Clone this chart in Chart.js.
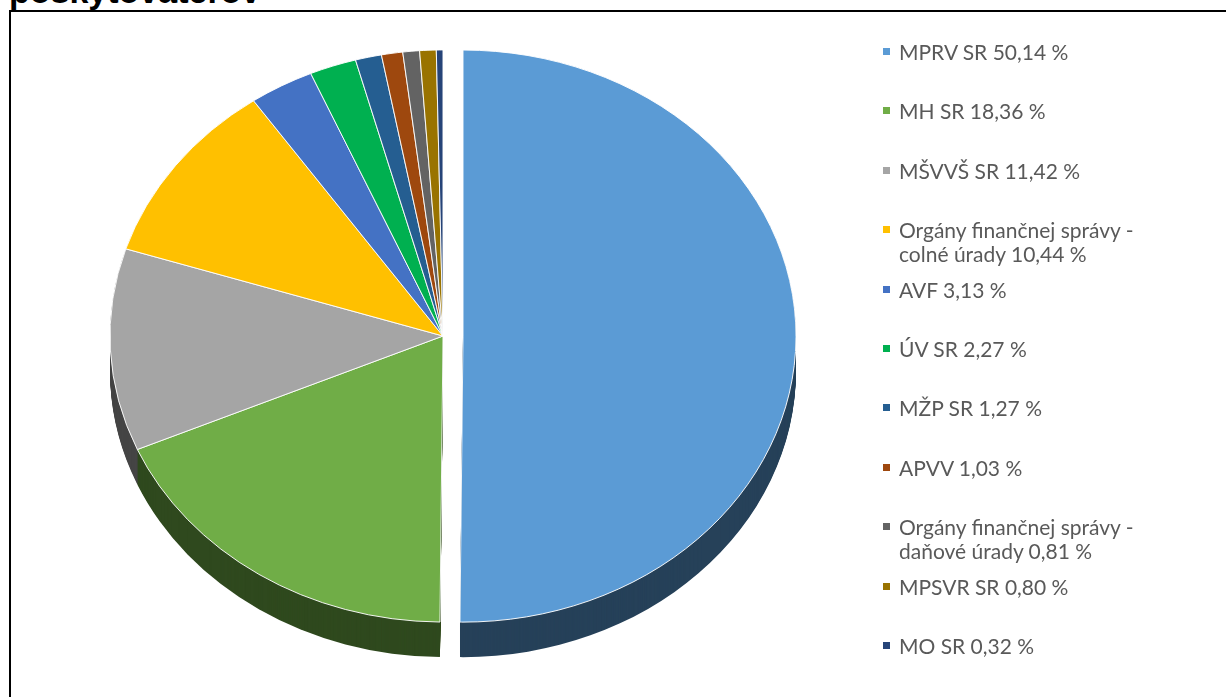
<!DOCTYPE html>
<html>
<head>
<meta charset="utf-8">
<script src="https://cdn.jsdelivr.net/npm/chart.js@4.4.1/dist/chart.umd.min.js"></script>
<style>
  html, body { margin:0; padding:0; background:#fff; width:1226px; height:697px; overflow:hidden; }
  #title { position:absolute; left:9px; top:-28px; font:bold 34px "Liberation Sans", Arial, sans-serif; color:#000; white-space:nowrap; }
  #box { position:absolute; left:9px; top:10px; width:1400px; height:900px; border-left:2px solid #000; border-top:2px solid #000; background:#fff; }
  #chart { position:absolute; left:0; top:0; }
  #legend { position:absolute; left:0; top:0; width:1226px; height:697px; pointer-events:none; }
  .item { position:absolute; left:880px; width:290px; font:21px "Lato", "Open Sans", sans-serif; color:#595959; line-height:24px; }
  .item .sw { position:absolute; left:3px; top:8px; width:7px; height:7px; }
  .item .tx { display:block; margin-left:19px; }
</style>
</head>
<body>
<div id="title">poskytovateľov</div>
<div id="box"></div>
<canvas id="chart" width="1226" height="697"></canvas>
<div id="legend"></div>
<script>
// ---- data ----
const labels = [
  'MPRV SR',
  'MH SR',
  'MŠVVŠ SR',
  'Orgány finančnej správy - colné úrady',
  'AVF',
  'ÚV SR',
  'MŽP SR',
  'APVV',
  'Orgány finančnej správy - daňové úrady',
  'MPSVR SR',
  'MO SR'
];
const shares = [50.14, 18.36, 11.42, 10.44, 3.13, 2.27, 1.27, 1.03, 0.81, 0.80, 0.32];
const colors = ['#5B9BD5', '#70AD47', '#A5A5A5', '#FFC000', '#4472C4', '#00B050',
                '#255E91', '#9E480E', '#636363', '#997300', '#264478'];
const exploded = [0];   // indices of pulled-out slices

// ---- style ----
const TILT = 0.859;     // vertical squash of the pie (3D look)
const DEPTH = 35;       // thickness of the pie side
const EXPLODE = 20;     // px distance of the exploded slice

function darker(hex, f) {
  const n = parseInt(hex.slice(1), 16);
  const r = Math.round(((n >> 16) & 255) * f), g = Math.round(((n >> 8) & 255) * f), b = Math.round((n & 255) * f);
  return `rgb(${r},${g},${b})`;
}
const sideColors = colors.map(c => darker(c, 0.42));

const tiltPlugin = {
  id: 'tilt3d',
  afterDatasetsUpdate(chart) {
    const arcs = chart.getDatasetMeta(0).data;
    exploded.forEach(i => {
      const a = arcs[i];
      const mid = (a.startAngle + a.endAngle) / 2;
      a.x += Math.cos(mid) * EXPLODE;
      a.y += Math.sin(mid) * EXPLODE;
    });
  },
  beforeDatasetsDraw(chart) {
    const ctx = chart.ctx;
    const arcs = chart.getDatasetMeta(0).data;
    const cx = (chart.chartArea.left + chart.chartArea.right) / 2;
    const cy = (chart.chartArea.top + chart.chartArea.bottom) / 2;
    for (let d = DEPTH; d >= 1; d--) {
      ctx.save();
      ctx.translate(cx, cy + d);
      ctx.scale(1, TILT);
      ctx.translate(-cx, -cy);
      arcs.forEach((a, i) => {
        ctx.beginPath();
        ctx.moveTo(a.x, a.y);
        ctx.arc(a.x, a.y, a.outerRadius, a.startAngle, a.endAngle);
        ctx.closePath();
        ctx.fillStyle = sideColors[i];
        ctx.fill();
      });
      ctx.restore();
    }
    ctx.save();
    ctx.translate(cx, cy);
    ctx.scale(1, TILT);
    ctx.translate(-cx, -cy);
  },
  afterDatasetsDraw(chart) {
    chart.ctx.restore();
  }
};

new Chart(document.getElementById('chart'), {
  type: 'pie',
  data: {
    labels: labels,
    datasets: [{
      data: shares,
      backgroundColor: colors,
      borderColor: '#ffffff',
      borderWidth: 1,
      clip: false
    }]
  },
  options: {
    responsive: false,
    animation: false,
    devicePixelRatio: 1,
    radius: 333,
    layout: { padding: { left: 110, right: 450, top: 3, bottom: 28 } },
    plugins: { legend: { display: false }, tooltip: { enabled: false } }
  },
  plugins: [tiltPlugin]
});

// ---- legend ----
const legend = document.getElementById('legend');
labels.forEach((lab, i) => {
  const it = document.createElement('div');
  it.className = 'item';
  it.style.top = (40 + i * 59.4) + 'px';
  const sw = document.createElement('span');
  sw.className = 'sw';
  sw.style.background = colors[i];
  const tx = document.createElement('span');
  tx.className = 'tx';
  tx.textContent = lab + ' ' + shares[i].toFixed(2).replace('.', ',') + ' %';
  it.appendChild(sw);
  it.appendChild(tx);
  legend.appendChild(it);
});
</script>
</body>
</html>
